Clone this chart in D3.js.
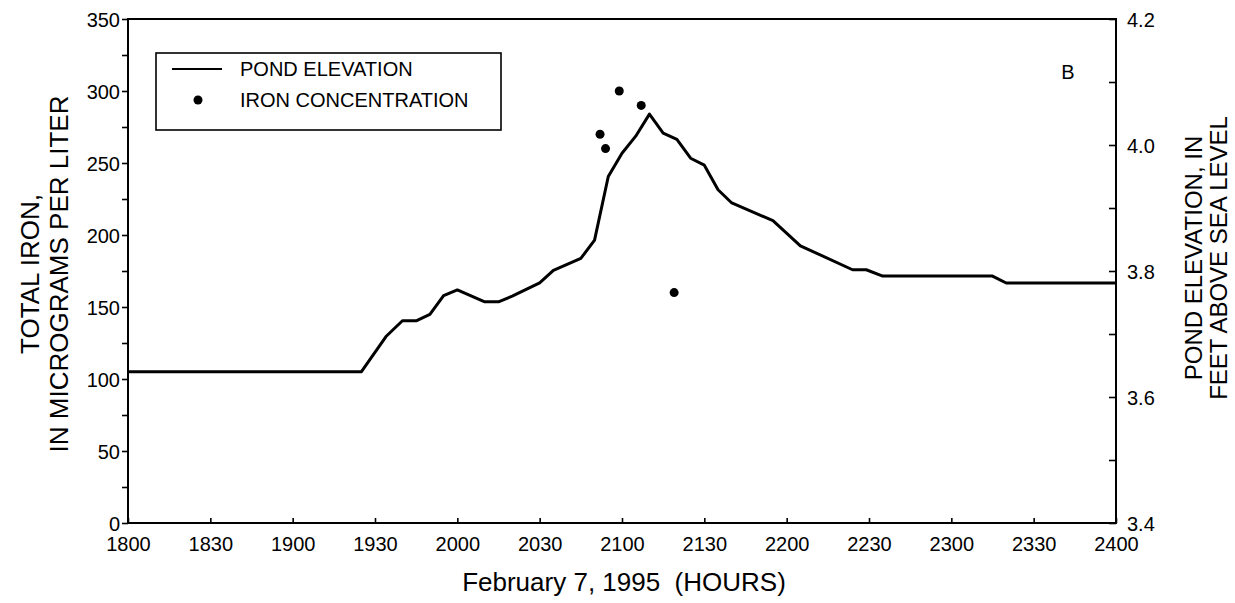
<!DOCTYPE html>
<html>
<head>
<meta charset="utf-8">
<script src="https://cdn.jsdelivr.net/npm/d3@7"></script>
<style>
  html, body { margin: 0; padding: 0; background: #fff; }
  svg { display: block; }
  text { font-family: "Liberation Sans", Arial, Helvetica, sans-serif; fill: #000; }
</style>
</head>
<body>
<svg id="chart" width="1235" height="603"></svg>
<script>
// ---- data ----
const xTickLabels = ["1800","1830","1900","1930","2000","2030","2100","2130","2200","2230","2300","2330","2400"];
const ironTicks = [0, 50, 100, 150, 200, 250, 300, 350];
const elevTicks = [3.4, 3.6, 3.8, 4.0, 4.2];

const elevTimes = ["18:00","19:25","19:34","19:40","19:45","19:50","19:55","20:00","20:10","20:15","20:20",
  "20:30","20:35","20:45","20:50","20:55","21:00","21:05","21:10","21:15","21:20","21:25","21:30","21:35",
  "21:40","21:55","22:05","22:24","22:29","22:35","23:15","23:20","24:00"];
const elevValues = [3.640,3.640,3.696,3.721,3.721,3.731,3.761,3.770,3.751,3.751,3.760,
  3.781,3.801,3.820,3.849,3.950,3.987,4.014,4.049,4.019,4.009,3.979,3.968,3.929,
  3.908,3.880,3.840,3.802,3.802,3.792,3.792,3.781,3.781];

const ironTimes = ["20:52","20:54","20:59","21:07","21:19"];
const ironValues = [270, 260, 300, 290, 160];

// ---- helpers ----
const toMin = s => { const [h, m] = s.split(":").map(Number); return (h - 18) * 60 + m; };

const svg = d3.select("#chart");
const L = 128, R = 1116, T = 19, B = 523;

const x = d3.scaleLinear().domain([0, 360]).range([L, R]);
const yL = d3.scaleLinear().domain([0, 350]).range([B, T]);
const yR = d3.scaleLinear().domain([3.4, 4.2]).range([B, T]);

const fontTick = 20;
const FF = "Liberation Sans, Arial, sans-serif";

// frame
svg.append("rect").attr("x", L).attr("y", T).attr("width", R - L).attr("height", B - T)
  .attr("fill", "none").attr("stroke", "#000").attr("stroke-width", 2);

// left axis
const gL = svg.append("g").attr("transform", `translate(${L},0)`)
  .call(d3.axisLeft(yL).tickValues(d3.range(0, 351, 25)).tickSize(6).tickPadding(2)
    .tickFormat(d => ironTicks.includes(d) ? d : ""));
gL.select(".domain").remove();
gL.selectAll(".tick line").attr("stroke", "#000").attr("stroke-width", 1.6);
gL.selectAll(".tick text").attr("font-size", fontTick).attr("font-family", FF)
  .attr("fill", "#000").attr("dy", "0.36em");

// right axis (inward ticks)
const gR = svg.append("g").attr("transform", `translate(${R},0)`)
  .call(d3.axisRight(yR).tickValues(d3.range(0, 9).map(i => +(3.4 + i * 0.1).toFixed(1))).tickSize(-7).tickPadding(11)
    .tickFormat(d => elevTicks.some(v => Math.abs(v - d) < 1e-9) ? d3.format(".1f")(d) : ""));
gR.select(".domain").remove();
gR.selectAll(".tick line").attr("stroke", "#000").attr("stroke-width", 1.6);
gR.selectAll(".tick text").attr("font-size", fontTick).attr("font-family", FF)
  .attr("fill", "#000").attr("x", 11).attr("dy", "0.36em");

// bottom axis (inward ticks)
const gB = svg.append("g").attr("transform", `translate(0,${B})`)
  .call(d3.axisBottom(x).tickValues(d3.range(0, 361, 30)).tickSize(-5).tickPadding(14)
    .tickFormat((d, i) => xTickLabels[i]));
gB.select(".domain").remove();
gB.selectAll(".tick line").attr("stroke", "#000").attr("stroke-width", 1.6);
gB.selectAll(".tick text").attr("font-size", fontTick).attr("font-family", FF)
  .attr("fill", "#000");

// pond elevation line
const elevData = elevTimes.map((t, i) => ({ t: toMin(t), v: elevValues[i] }));
svg.append("path").datum(elevData)
  .attr("fill", "none").attr("stroke", "#000").attr("stroke-width", 3).attr("stroke-linejoin", "round")
  .attr("d", d3.line().x(d => x(d.t)).y(d => yR(d.v)));

// iron concentration dots
const ironData = ironTimes.map((t, i) => ({ t: toMin(t), v: ironValues[i] }));
svg.selectAll("circle.iron").data(ironData).enter().append("circle").attr("class", "iron")
  .attr("cx", d => x(d.t)).attr("cy", d => yL(d.v)).attr("r", 4.5).attr("fill", "#000");

// legend
const lg = svg.append("g");
lg.append("rect").attr("x", 156).attr("y", 53).attr("width", 345).attr("height", 77)
  .attr("fill", "#fff").attr("stroke", "#000").attr("stroke-width", 1.6);
lg.append("line").attr("x1", 172).attr("x2", 222).attr("y1", 69).attr("y2", 69)
  .attr("stroke", "#000").attr("stroke-width", 2);
lg.append("text").attr("x", 240).attr("y", 76).attr("font-size", 20).text("POND ELEVATION");
lg.append("circle").attr("cx", 198).attr("cy", 100).attr("r", 4.5).attr("fill", "#000");
lg.append("text").attr("x", 240).attr("y", 107).attr("font-size", 20).text("IRON CONCENTRATION");

// panel letter
svg.append("text").attr("x", 1068).attr("y", 79).attr("font-size", 20).attr("text-anchor", "middle").text("B");

// axis titles
svg.append("text").attr("x", 624).attr("y", 591).attr("font-size", 26).attr("text-anchor", "middle")
  .attr("xml:space", "preserve").text("February 7, 1995  (HOURS)");

const lt = svg.append("text").attr("transform", `translate(0,274) rotate(-90)`)
  .attr("text-anchor", "middle").attr("font-size", 26);
lt.append("tspan").attr("x", 0).attr("y", 39).text("TOTAL IRON,");
lt.append("tspan").attr("x", 0).attr("y", 68).text("IN MICROGRAMS PER LITER");

const rt = svg.append("text").attr("transform", `translate(0,258) rotate(-90)`)
  .attr("text-anchor", "middle").attr("font-size", 24);
rt.append("tspan").attr("x", 0).attr("y", 1202).text("POND ELEVATION, IN");
rt.append("tspan").attr("x", 0).attr("y", 1227).text("FEET ABOVE SEA LEVEL");
</script>
</body>
</html>
